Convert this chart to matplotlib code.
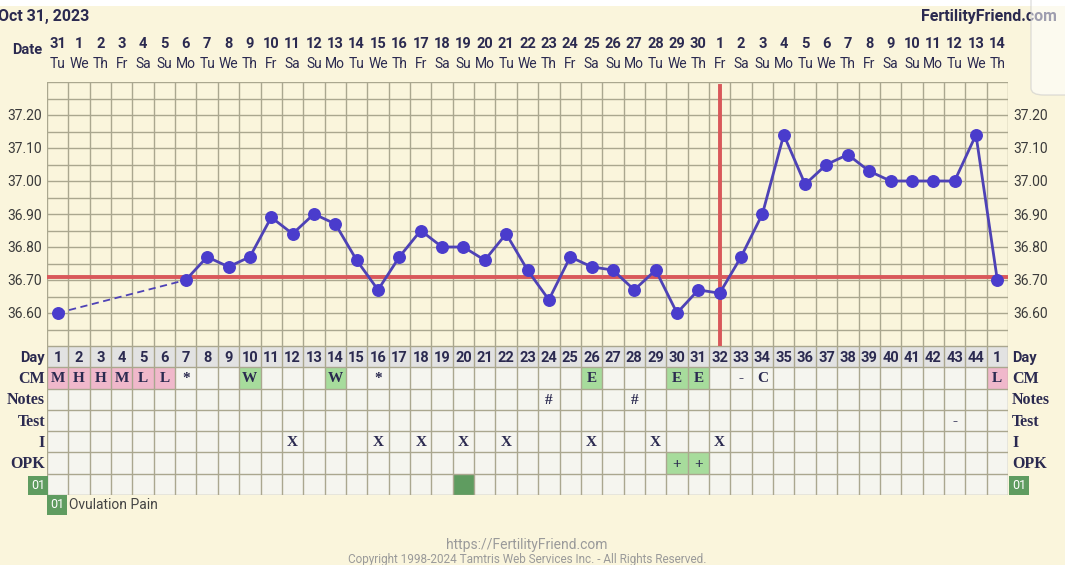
import matplotlib
matplotlib.use("Agg")
import matplotlib.pyplot as plt
from matplotlib.patches import Rectangle, FancyBboxPatch
import matplotlib.transforms as mtransforms

# ---------------- data ----------------
dates = ["31", "1", "2", "3", "4", "5", "6", "7", "8", "9", "10", "11", "12", "13", "14", "15",
         "16", "17", "18", "19", "20", "21", "22", "23", "24", "25", "26", "27", "28", "29", "30",
         "1", "2", "3", "4", "5", "6", "7", "8", "9", "10", "11", "12", "13", "14"]
weekdays = ["Tu", "We", "Th", "Fr", "Sa", "Su", "Mo", "Tu", "We", "Th", "Fr", "Sa", "Su", "Mo", "Tu",
            "We", "Th", "Fr", "Sa", "Su", "Mo", "Tu", "We", "Th", "Fr", "Sa", "Su", "Mo", "Tu", "We",
            "Th", "Fr", "Sa", "Su", "Mo", "Tu", "We", "Th", "Fr", "Sa", "Su", "Mo", "Tu", "We", "Th"]
cycle_days = ["1", "2", "3", "4", "5", "6", "7", "8", "9", "10", "11", "12", "13", "14", "15",
              "16", "17", "18", "19", "20", "21", "22", "23", "24", "25", "26", "27", "28", "29",
              "30", "31", "32", "33", "34", "35", "36", "37", "38", "39", "40", "41", "42", "43",
              "44", "1"]
temps = [36.60, None, None, None, None, None, 36.70, 36.77, 36.74, 36.77, 36.89, 36.84, 36.90,
         36.87, 36.76, 36.67, 36.77, 36.85, 36.80, 36.80, 36.76, 36.84, 36.73, 36.64, 36.77,
         36.74, 36.73, 36.67, 36.73, 36.60, 36.67, 36.66, 36.77, 36.90, 37.14, 36.99, 37.05,
         37.08, 37.03, 37.00, 37.00, 37.00, 37.00, 37.14, 36.70]
coverline = 36.71
ovulation_day = 32
ytick_values = [36.60, 36.70, 36.80, 36.90, 37.00, 37.10, 37.20]

# table rows: {column(1-based): (text, kind)}
cm_row = {1: ("M", "pink"), 2: ("H", "pink"), 3: ("H", "pink"), 4: ("M", "pink"), 5: ("L", "pink"),
          6: ("L", "pink"), 7: ("*", None), 10: ("W", "green"), 14: ("W", "green"), 16: ("*", None),
          26: ("E", "green"), 30: ("E", "green"), 31: ("E", "green"), 33: ("-", None),
          34: ("C", None), 45: ("L", "pink")}
notes_row = {24: ("#", None), 28: ("#", None)}
test_row = {43: ("-", None)}
i_row = {12: ("X", None), 16: ("X", None), 18: ("X", None), 20: ("X", None), 22: ("X", None),
         26: ("X", None), 29: ("X", None), 32: ("X", None)}
opk_row = {30: ("+", "green"), 31: ("+", "green")}
pain_row = {20: ("", "dark")}
row_labels = ["Day", "CM", "Notes", "Test", "I", "OPK", "01"]

# ---------------- style ----------------
BG = "#faf5dc"
GRID = "#aaa78f"
NAVY = "#2b2a50"
CELL = "#f5f5ef"
DAYROW = "#e2e2e2"
PINK = "#f0b8cb"
GREEN = "#a7dc9c"
DGREEN = "#5f9c60"
LINE = "#4e42b6"
MARK = "#4a3ccc"
RED = "#d9585a"
SERIF = ["Liberation Serif", "DejaVu Serif"]
fills = {"pink": PINK, "green": GREEN, "dark": DGREEN}

W, H = 1065, 565
fig = plt.figure(figsize=(W / 100, H / 100), dpi=100, facecolor=BG)

def fx(px):
    return px / W

def fy(py):
    return 1 - py / H

L, R = 47, 1008
T_top, T_bot = 82, 346
TB_bot = 495
n = len(temps)

# ---------------- temperature axes ----------------
ax = fig.add_axes([fx(L), fy(T_bot), fx(R - L), (T_bot - T_top) / H])
ax.set_facecolor(BG)
ax.set_xlim(0.5, n + 0.5)
ax.set_ylim(36.50, 37.30)
for k in range(n + 1):
    ax.axvline(0.5 + k, color=GRID, lw=1.0, zorder=1)
yv = 36.50
while yv < 37.301:
    ax.axhline(yv, color=GRID, lw=1.0, zorder=1)
    yv += 0.05
for s in ax.spines.values():
    s.set_visible(False)
ax.set_xticks([])
ax.set_yticks(ytick_values)
ax.set_yticklabels([f"{v:.2f}" for v in ytick_values])
ax.tick_params(axis="y", length=0, labelsize=10, labelcolor="#3a3a3a", pad=4,
               labelright=True, right=False)
for lab in ax.get_yticklabels():
    lab.set_fontfamily("Roboto")

ax.axhline(coverline, color=RED, lw=2.8, zorder=3)
ax.axvline(ovulation_day, ymin=0, ymax=0.985, color=RED, lw=2.8, zorder=3)

xs = [i + 1 for i, t in enumerate(temps) if t is not None]
ys = [t for t in temps if t is not None]
# dashed gap bridge (first point -> next recorded point)
ax.plot(xs[:2], ys[:2], color=LINE, lw=1.3, ls=(0, (4, 2.5)), zorder=4)
ax.plot(xs[1:], ys[1:], color=LINE, lw=2.0, zorder=4)
ax.plot(xs, ys, ls="none", marker="o", ms=8.3, mfc=MARK, mec=MARK, zorder=5)

# ---------------- header ----------------
fig.patches.append(Rectangle((0, fy(6)), 1, 6 / H, transform=fig.transFigure,
                             facecolor="white", edgecolor="none", zorder=0))
fig.text(fx(-2), fy(17), "Oct 31, 2023", fontfamily="Roboto", fontweight="bold", fontsize=11.5,
         color=NAVY, ha="left", va="center")
fig.text(fx(1057), fy(17), "FertilityFriend.com", fontfamily="Roboto", fontweight="bold",
         fontsize=11.5, color=NAVY, ha="right", va="center")
fig.text(fx(27), fy(50), "Date", fontfamily="Roboto", fontweight="bold", fontsize=10.5,
         color=NAVY, ha="center", va="center")
hdr = mtransforms.blended_transform_factory(ax.transData, fig.transFigure)
for i in range(n):
    ax.text(i + 1, fy(44), dates[i], transform=hdr, ha="center", va="center",
            fontfamily="Roboto", fontweight="bold", fontsize=10.5, color=NAVY)
    ax.text(i + 1, fy(64), weekdays[i], transform=hdr, ha="center", va="center",
            fontfamily="Roboto", fontsize=10, color=NAVY)

# translucent overlay at top-right corner
fig.patches.append(FancyBboxPatch((fx(1031), fy(95)), fx(60), 110 / H,
                                  boxstyle="round,pad=0,rounding_size=0.012",
                                  transform=fig.transFigure, facecolor="white", alpha=0.55,
                                  edgecolor="#c8c8c8", lw=1.0, zorder=10))

# ---------------- table axes ----------------
tb = fig.add_axes([fx(L), fy(TB_bot), fx(R - L), (TB_bot - T_bot) / H])
tb.set_xlim(0.5, n + 0.5)
tb.set_ylim(len(row_labels), 0)
tb.set_facecolor(CELL)
tb.axis("off")
tb.add_patch(Rectangle((0.5, 0), n, len(row_labels), facecolor=CELL, edgecolor="none", zorder=0))
tb.add_patch(Rectangle((0.5, 0), n, 1, facecolor=DAYROW, edgecolor="none", zorder=0))

rows = [cm_row, notes_row, test_row, i_row, opk_row, pain_row]
for r, row in enumerate(rows, start=1):
    for col, (txt, kind) in row.items():
        if kind:
            tb.add_patch(Rectangle((col - 0.5, r), 1, 1, facecolor=fills[kind],
                                   edgecolor="none", zorder=1))
        if txt:
            tb.text(col, r + 0.55, txt, ha="center", va="center", family=SERIF,
                    fontweight="bold", fontsize=11, color=NAVY, zorder=3)
for i in range(n):
    tb.text(i + 1, 0.55, cycle_days[i], ha="center", va="center", fontfamily="Roboto",
            fontweight="bold", fontsize=10.5, color=NAVY, zorder=3)
for k in range(n + 1):
    tb.plot([0.5 + k, 0.5 + k], [0, len(row_labels)], color=GRID, lw=1.0, zorder=2)
for r in range(len(row_labels) + 1):
    tb.plot([0.5, n + 0.5], [r, r], color=GRID, lw=1.0, zorder=2)

lab_l = mtransforms.blended_transform_factory(fig.transFigure, tb.transData)
for r, name in enumerate(row_labels):
    if name == "Day":
        kw = dict(fontfamily="Roboto", fontweight="bold", fontsize=10.5, color=NAVY)
    elif name == "01":
        kw = dict(fontfamily="Roboto", fontsize=9, color="white",
                  bbox=dict(boxstyle="square,pad=0.25", facecolor=DGREEN, edgecolor="none"))
    else:
        kw = dict(family=SERIF, fontweight="bold", fontsize=11.5, color=NAVY)
    tb.text(fx(45), r + 0.55, name, transform=lab_l, ha="right", va="center", **kw)
    tb.text(fx(1012), r + 0.55, name, transform=lab_l, ha="left", va="center", **kw)

# legend
fig.text(fx(50), fy(505), "01", fontfamily="Roboto", fontsize=9, color="white", ha="left",
         va="center", bbox=dict(boxstyle="square,pad=0.25", facecolor=DGREEN, edgecolor="none"))
fig.text(fx(69), fy(505), "Ovulation Pain", fontfamily="Roboto", fontsize=10, color="#444444",
         ha="left", va="center")

# footer
fig.text(fx(527), fy(545), "https://FertilityFriend.com", fontfamily="Roboto", fontsize=10,
         color="#9a9a9a", ha="center", va="center")
fig.text(fx(527), fy(559), "Copyright 1998-2024 Tamtris Web Services Inc. - All Rights Reserved.",
         fontfamily="Roboto", fontsize=8.5, color="#9a9a9a", ha="center", va="center")

fig.savefig("out.png", dpi=100, facecolor=BG)
